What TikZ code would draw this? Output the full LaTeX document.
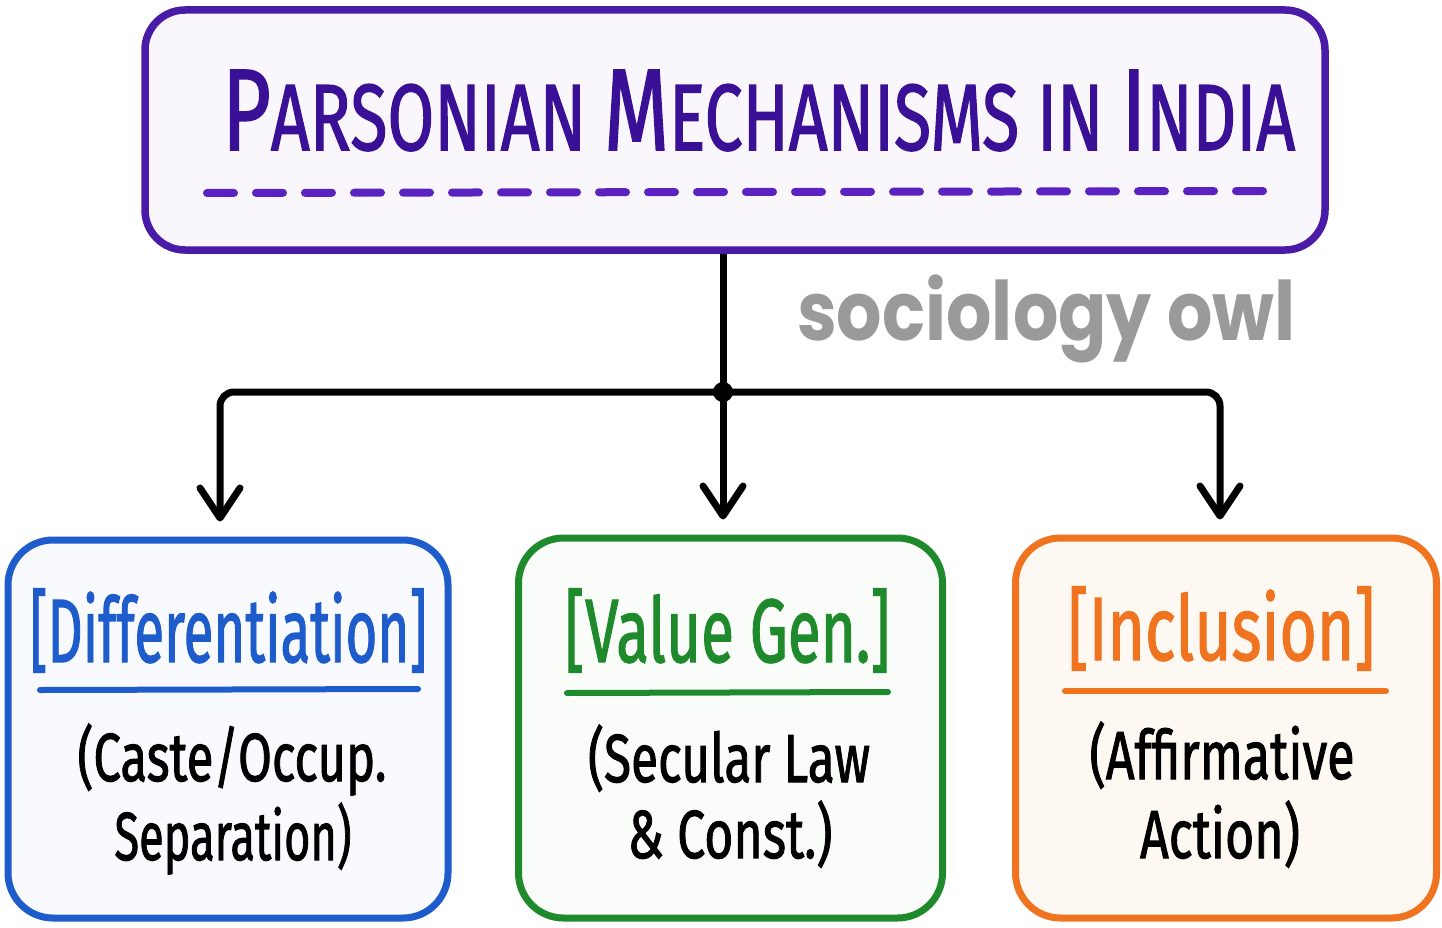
\documentclass[tikz,border=0pt]{standalone}
\usepackage{fontspec}
\setmainfont{Fira Sans}[FakeBold=1.6]
\newfontfamily\owlfont{Poppins}
\usetikzlibrary{arrows.meta}
\definecolor{tpurple}{HTML}{4A1BA6}
\definecolor{ttext}{HTML}{3A1096}
\definecolor{tdash}{HTML}{5A22C0}
\definecolor{tfill}{HTML}{F9F7FC}
\definecolor{cblue}{HTML}{1E5CCC}
\definecolor{bfill}{HTML}{F8FAFE}
\definecolor{cgreen}{HTML}{1F8A2C}
\definecolor{gfill}{HTML}{FAFCFA}
\definecolor{corange}{HTML}{F07420}
\definecolor{ofill}{HTML}{FDF8F1}
\definecolor{owlgray}{HTML}{9A9A9A}
\newcommand\fitw[2]{\resizebox{#1}{\height}{#2}}
\newcommand\bigC[1]{{\fontsize{116}{116}\selectfont #1}}
\newcommand\smC[1]{{\fontsize{94}{94}\selectfont #1}}
\begin{document}
\begin{tikzpicture}[x=1pt,y=-1pt,
  rbox/.style={draw, rounded corners=45pt, line width=7pt, inner sep=0pt},
  headtxt/.style={anchor=base, inner sep=0pt, font=\fontsize{90}{90}\selectfont},
  bodytxt/.style={anchor=base, inner sep=0pt, text=black, font=\fontsize{68}{68}\selectfont},
  uline/.style={line width=6pt, line cap=round},
  conn/.style={line width=7pt, rounded corners=14pt, line cap=round,
    -{Straight Barb[length=30pt,width=40pt,round]}}]
\useasboundingbox (0,0) rectangle (1442,928);
\fill[white] (0,0) rectangle (1442,928);
% title
\node[rbox, draw=tpurple, fill=tfill, rounded corners=40pt, line width=7.5pt, minimum width=1180pt, minimum height=240pt] (title) at (735,130) {};
\node[anchor=base west, inner sep=0pt, text=ttext] (titletext) at (222,150)
  {\fitw{1073pt}{\bigC{P}\smC{ARSONIAN}\smC{\ }\bigC{M}\smC{ECHANISMS}\smC{\ }\smC{IN}\smC{\ }\bigC{I}\smC{NDIA}}};
\draw[tdash, line width=8pt, line cap=round, dash pattern=on 27pt off 22pt] (207,193) -- (1270,191);
% watermark
\node[anchor=base west, inner sep=0pt, text=owlgray] (owl) at (797,340)
  {\fitw{498pt}{\fontsize{82}{82}\selectfont\owlfont\bfseries sociology owl}};
% boxes
\node[rbox, draw=cblue, fill=bfill, minimum width=440pt, minimum height=378pt] (diff) at (228,729) {};
\node[rbox, draw=cgreen, fill=gfill, minimum width=424pt, minimum height=380pt] (val) at (730.5,728) {};
\node[rbox, draw=corange, fill=ofill, minimum width=421pt, minimum height=380pt] (incl) at (1226,728) {};
% connectors
\coordinate (junc) at (723,392);
\draw[line width=7pt] ([xshift=-12pt]title.south) -- (junc);
\fill (junc) circle (10pt);
\draw[conn] (junc) -| ([xshift=-8pt,yshift=15pt]diff.north);
\draw[conn] (junc) -- ([xshift=-7.5pt,yshift=15pt]val.north);
\draw[conn] (junc) -| ([xshift=-6pt,yshift=15pt]incl.north);
% headers
\node[headtxt, text=cblue] (h1) at (228.5,662) {\fitw{397pt}{[Differentiation]}};
\node[headtxt, text=cgreen] (h2) at (727.5,662) {\fitw{325pt}{[Value Gen.]}};
\node[headtxt, text=corange] (h3) at (1221.5,660) {\fitw{307pt}{[Inclusion]}};
\draw[uline, cblue] (40,690) -- (418,689);
\draw[uline, cgreen] (567,693) -- (888,692);
\draw[uline, corange] (1065,691) -- (1386,691);
% bodies
\node[bodytxt] (b1a) at (232,781) {\fitw{309pt}{(Caste/Occup.}};
\node[bodytxt] (b1b) at (233,860) {\fitw{237pt}{Separation)}};
\node[bodytxt] (b2a) at (729,782) {\fitw{282pt}{(Secular Law}};
\node[bodytxt] (b2b) at (730,858) {\fitw{205pt}{\& Const.)}};
\node[bodytxt] (b3a) at (1222,779) {\fitw{265pt}{(Affirmative}};
\node[bodytxt] (b3b) at (1220,858) {\fitw{160pt}{Action)}};
\end{tikzpicture}
\end{document}
